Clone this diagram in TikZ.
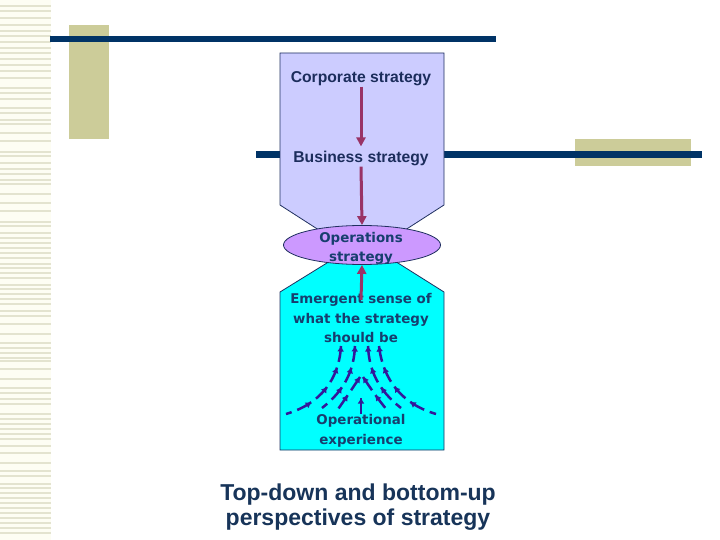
\documentclass[tikz,border=0pt]{standalone}
\usepackage{fontspec}
\usetikzlibrary{arrows.meta,shapes.geometric,decorations.markings}
\newfontfamily\arialf{Liberation Sans}
\newfontfamily\dejf{DejaVu Sans}
\definecolor{navyline}{HTML}{003366}
\definecolor{olive}{HTML}{CCCC99}
\definecolor{lav}{HTML}{CCCCFF}
\definecolor{purp}{HTML}{CC99FF}
\definecolor{cyanf}{HTML}{00FFFF}
\definecolor{edge}{HTML}{1F2F5F}
\definecolor{txtup}{HTML}{1C2D5C}
\definecolor{txtlow}{HTML}{173E6E}
\definecolor{titlec}{HTML}{173459}
\definecolor{maroonc}{HTML}{993366}
\definecolor{fancol}{HTML}{33189A}
\definecolor{cream}{HTML}{FDFDF3}
\definecolor{stripec}{HTML}{E3E3CF}
\begin{document}
\begin{tikzpicture}[x=1pt,y=-1pt,
  uplabel/.style={font=\arialf\bfseries\fontsize{15.7}{18}\selectfont, text=txtup, inner sep=0pt, anchor=base},
  lowlabel/.style={font=\dejf\bfseries\fontsize{13.4}{16}\selectfont, text=txtlow, inner sep=0pt, anchor=base},
  titlelabel/.style={font=\arialf\bfseries\fontsize{23}{27}\selectfont, text=titlec, inner sep=0pt, anchor=base},
  mar/.style={draw=maroonc, line width=3pt, -{Triangle[width=9pt,length=9pt]}},
  fan/.style={draw=fancol, line width=2.5pt, dash pattern=on 16pt off 6pt,
    postaction={decorate},
    decoration={markings, mark=between positions 0.5pt and -9pt step 22pt with {\arrowreversed{Triangle[width=6pt,length=5pt,color=fancol]}}}},
  panel/.style={draw=edge, line width=0.8pt}
]
\useasboundingbox (0,0) rectangle (720,540);
% left striped band
\fill[cream] (0,0) rectangle (51,540);
\foreach \yy in {5,10,17,24,30,35,41,47,52,58,64,70,77,87,92,98,107,112,119,123,132,140,151,155,162,168,173,179,183,193,202,210,221,225,232,237,242,247,252,257,263,267,272,277,284,288,293,298,303,310,315,323,333,342,347,352,357,360,368,378,387,392,398,403,413,418,423,428,433,438,445,452,462,470,475,483,487,492,497,502,507,512,517,522,527,532}
  \fill[stripec] (0,\yy) rectangle (51,\yy+2);
% decorative bars
\fill[olive] (69,25) rectangle (109,139);
\fill[olive] (575,139) rectangle (691,166);
\fill[navyline] (50,36) rectangle (496,42);
\fill[navyline] (256,151) rectangle (702,158);
% panels
\path[panel, fill=lav] (280,53) -- (444,53) -- (444,205) -- (402,232) -- (322,232) -- (280,205) -- cycle;
\path[panel, fill=cyanf] (335,258) -- (390,258) -- (444,292) -- (444,450) -- (280,450) -- (280,292) -- cycle;
\node[ellipse, panel, fill=purp, minimum width=157pt, minimum height=39pt, inner sep=0pt] (ops) at (362,245) {};
% labels
\node[uplabel] (corp) at (361,83) {Corporate strategy};
\node[uplabel] (bus) at (361,163) {Business strategy};
\node[lowlabel] (ops1) at (361,243) {Operations};
\node[lowlabel] (ops2) at (361,261) {strategy};
\node[lowlabel] (em1) at (361,303) {Emergent sense of};
\node[lowlabel] (em2) at (361,323) {what the strategy};
\node[lowlabel] (em3) at (361,342) {should be};
\node[lowlabel] (op1) at (361,424) {Operational};
\node[lowlabel] (op2) at (361,444) {experience};
\node[titlelabel] (t1) at (358,500) {Top-down and bottom-up};
\node[titlelabel] (t2) at (358,525) {perspectives of strategy};
% top-down arrows
\draw[mar, shorten >=5pt] (corp.south) -- (bus.north);
\draw[mar] (bus.south) -- (ops.north);
\coordinate (upstart) at (361,300);
\draw[mar] (upstart) -- (ops.south);
% bottom-up fan (drawn from the tip end so that each dash ends in a head)
\draw[fan] (341,346) .. controls (339,380) and (320,404) .. (286,414);
\draw[fan] (355,346) .. controls (354,370) and (345,390) .. (322,408);
\draw[fan] (368,346) .. controls (369,370) and (378,390) .. (401,408);
\draw[fan] (379,346) .. controls (383,380) and (402,404) .. (436,414);
\draw[fan] (360,377) .. controls (354,386) and (346,398) .. (336,412);
\draw[fan] (363,377) .. controls (369,386) and (377,398) .. (387,410);
\draw[fan] (361,398) -- (361,414);
\end{tikzpicture}
\end{document}
